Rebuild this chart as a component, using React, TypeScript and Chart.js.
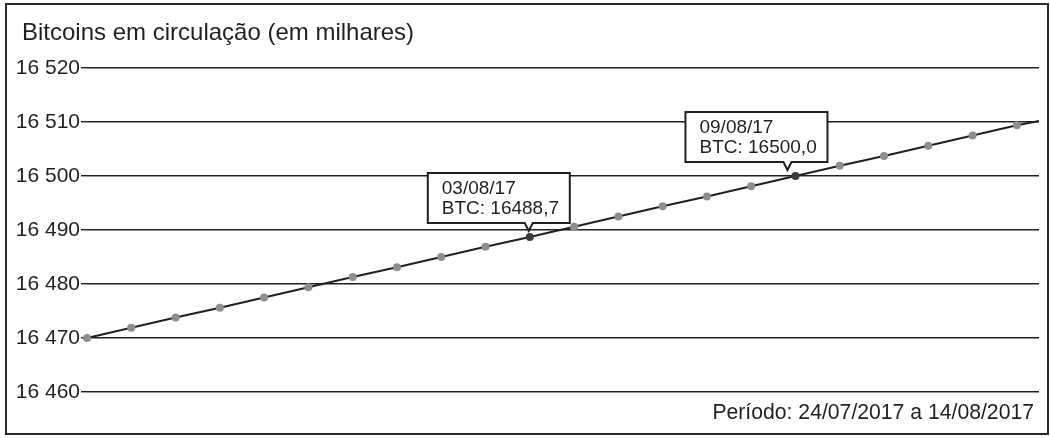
import React, { useEffect, useRef } from 'react';
import { Chart, registerables } from 'chart.js';

Chart.register(...registerables);

const chartTitle = 'Bitcoins em circulação (em milhares)';
const periodNote = 'Período: 24/07/2017 a 14/08/2017';

// one point per day, 24/07/2017 .. 14/08/2017
const dates = [
  '24/07/17', '25/07/17', '26/07/17', '27/07/17', '28/07/17', '29/07/17',
  '30/07/17', '31/07/17', '01/08/17', '02/08/17', '03/08/17', '04/08/17',
  '05/08/17', '06/08/17', '07/08/17', '08/08/17', '09/08/17', '10/08/17',
  '11/08/17', '12/08/17', '13/08/17', '14/08/17',
];
const btc = [
  16470.0, 16471.9, 16473.8, 16475.6, 16477.5, 16479.4,
  16481.3, 16483.1, 16485.0, 16486.9, 16488.7, 16490.6,
  16492.5, 16494.4, 16496.2, 16498.1, 16500.0, 16501.9,
  16503.7, 16505.6, 16507.5, 16509.4,
];
// the line runs on a bit past the last day, up to the right edge
const tailX = 21.5;
const tailValue = 16510.2;

const yTicks = [16460, 16470, 16480, 16490, 16500, 16510, 16520];
const calloutDays = [10, 16];

const INK = '#231f20';
const FONT = "'Liberation Sans', Arial, Helvetica, sans-serif";

// box placement for each callout, relative to its point
const calloutStyle: Record<number, { dx: number; tip: number }> = {
  10: { dx: -102, tip: -1 },
  16: { dx: -110, tip: -8 },
};

const fmtThousands = (v: number) => String(v).replace(/\B(?=(\d{3})+(?!\d))/g, ' ');

const textPlugin = {
  id: 'texts',
  afterDraw(chart: Chart) {
    const ctx = chart.ctx;
    ctx.save();
    ctx.fillStyle = INK;
    ctx.textBaseline = 'alphabetic';
    ctx.font = `24px ${FONT}`;
    ctx.textAlign = 'left';
    ctx.fillText(chartTitle, 15, 35);
    ctx.font = `21.2px ${FONT}`;
    ctx.textAlign = 'right';
    ctx.fillText(periodNote, 1027, 414);

    // callouts
    const meta = chart.getDatasetMeta(0);
    calloutDays.forEach((i) => {
      const pt = meta.data[i] as any;
      const st = calloutStyle[i];
      const left = pt.x + st.dx;
      const top = pt.y - 64;
      const w = 142;
      const h = 50;
      const bottom = top + h;
      const tipX = pt.x + st.tip;
      ctx.beginPath();
      ctx.moveTo(left, top);
      ctx.lineTo(left + w, top);
      ctx.lineTo(left + w, bottom);
      ctx.lineTo(tipX + 4, bottom);
      ctx.lineTo(tipX, bottom + 8);
      ctx.lineTo(tipX - 4, bottom);
      ctx.lineTo(left, bottom);
      ctx.closePath();
      ctx.fillStyle = '#ffffff';
      ctx.fill();
      ctx.lineWidth = 2;
      ctx.strokeStyle = INK;
      ctx.stroke();
      ctx.fillStyle = INK;
      ctx.font = `19px ${FONT}`;
      ctx.textAlign = 'left';
      ctx.fillText(dates[i], left + 14, top + 20.5);
      ctx.fillText('BTC: ' + btc[i].toFixed(1).replace('.', ','), left + 14, top + 41);
    });
    ctx.restore();
  },
};

const App = () => {
  const canvasRef = useRef<HTMLCanvasElement | null>(null);

  useEffect(() => {
    if (!canvasRef.current) return;
    const points = btc.map((v, i) => ({ x: i, y: v }));
    points.push({ x: tailX, y: tailValue });

    const chart = new Chart(canvasRef.current, {
      type: 'line',
      data: {
        datasets: [{
          data: points,
          borderColor: INK,
          borderWidth: 2,
          pointRadius: points.map((_, i) => (i < btc.length ? 4 : 0)),
          pointBorderWidth: 0,
          pointBackgroundColor: points.map((_, i) => (calloutDays.includes(i) ? '#3b3b3d' : '#8d8e90')),
          tension: 0,
          clip: false,
        }],
      },
      options: {
        responsive: false,
        animation: false,
        layout: { padding: { top: 63, bottom: 41, left: 0, right: 8 } },
        plugins: {
          legend: { display: false },
          tooltip: { enabled: false },
          title: { display: false },
        },
        scales: {
          x: {
            type: 'linear',
            min: 0,
            max: tailX,
            display: false,
          },
          y: {
            min: yTicks[0],
            max: yTicks[yTicks.length - 1],
            afterFit(scale: any) { scale.width = 80; },
            afterBuildTicks(scale: any) { scale.ticks = yTicks.map((v) => ({ value: v })); },
            border: { display: false },
            grid: { color: INK, lineWidth: 1.4, tickLength: 6, drawTicks: true },
            ticks: {
              color: INK,
              padding: 1,
              font: { family: FONT, size: 21 },
              callback: (v: any) => fmtThousands(Number(v)),
            },
          },
        },
      },
      plugins: [textPlugin],
    });

    return () => chart.destroy();
  }, []);

  return (
    <div>
      <style>{'body{margin:0;background:#fff}'}</style>
      <div style={{
        position: 'absolute', left: 5, top: 3, width: 1044, height: 432,
        boxSizing: 'border-box', border: '2px solid #2b2b2b', background: '#fff',
      }}>
        <canvas ref={canvasRef} width={1040} height={428} style={{ display: 'block' }} />
      </div>
    </div>
  );
};

export default App;
